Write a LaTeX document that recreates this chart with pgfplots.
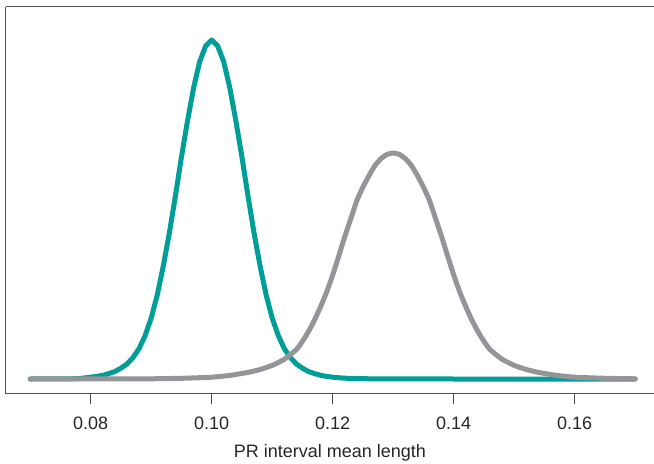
\documentclass[border=0pt]{standalone}
\usepackage{fontspec}
\setmainfont{Liberation Sans}
\usepackage{pgfplots}
\pgfplotsset{compat=1.18}
\definecolor{tealc}{RGB}{0,158,150}
\definecolor{grayc}{RGB}{148,149,153}
\definecolor{axc}{RGB}{80,80,80}
\begin{document}
\begin{tikzpicture}
\begin{axis}[
  scale only axis,
  width=648.3bp, height=387bp,
  xmin=0.06595, xmax=0.17311,
  ymin=-14.7, ymax=372.3,
  separate axis lines,
  axis x line*=box,
  axis y line*=left,
  axis line style={axc, line width=1.2bp},
  ytick=\empty,
  xtick={0.08,0.10,0.12,0.14,0.16},
  xticklabels={0.08,0.10,0.12,0.14,0.16},
  xtick pos=lower,
  tick align=outside,
  major tick length=10bp,
  every tick/.style={axc, line width=1.2bp},
  xticklabel style={font=\fontsize{18bp}{21bp}\selectfont, text=black!85, yshift=-9.5bp},
  /pgf/number format/assume math mode=true,
  xlabel={PR interval mean length},
  xlabel style={font=\fontsize{18bp}{21bp}\selectfont, text=black!85, yshift=-8bp},
  clip=false,
]
\addplot[tealc, line width=5bp, line cap=round, line join=round] table {
0.070 0.0
0.073 0.01
0.076 0.05
0.078 0.4
0.080 1.8
0.081 2.6
0.082 3.7
0.083 5.4
0.084 7.5
0.085 10.8
0.086 15.0
0.087 21.5
0.088 30.4
0.089 43.5
0.090 61
0.091 84
0.092 113
0.093 146
0.094 183
0.095 222
0.096 258
0.097 291
0.098 317
0.099 333
0.100 339
0.101 333
0.102 317
0.103 291
0.104 258
0.105 222
0.106 183
0.107 146
0.108 113
0.109 84
0.110 61
0.111 43.5
0.112 30.4
0.113 21.5
0.114 15.0
0.115 10.8
0.116 7.5
0.117 5.4
0.118 3.7
0.119 2.6
0.120 1.8
0.122 0.8
0.124 0.4
0.127 0.14
0.130 0.05
0.140 0.0
0.170 0.0
};
\addplot[grayc, line width=5bp, line cap=round, line join=round, smooth, tension=0.3] table {
0.070 0.0
0.080 0.05
0.085 0.1
0.090 0.2
0.095 0.7
0.100 1.8
0.103 3.6
0.106 6.6
0.108 9.5
0.110 13.6
0.112 19.7
0.114 29.4
0.115 37.7
0.116 47.5
0.117 59
0.118 72.3
0.119 87
0.120 104
0.121 123
0.122 142.4
0.123 160.5
0.124 178.5
0.125 192
0.126 203.4
0.127 213.6
0.128 220.4
0.129 224.6
0.130 226
0.131 224.6
0.132 220.4
0.133 213.6
0.134 203.4
0.135 192
0.136 178.5
0.137 160.5
0.138 142.4
0.139 123
0.140 104
0.141 87
0.142 72.3
0.143 59
0.144 47.5
0.145 37.7
0.146 29.4
0.148 19.7
0.150 13.6
0.152 9.5
0.154 6.6
0.157 3.6
0.160 1.8
0.165 0.7
0.170 0.2
};
\end{axis}
\pgfresetboundingbox
\path[use as bounding box] ([shift={(-5.7bp,-70.3bp)}]current axis.south west) rectangle ([shift={(0bp,6.7bp)}]current axis.north east);
\end{tikzpicture}
\end{document}
